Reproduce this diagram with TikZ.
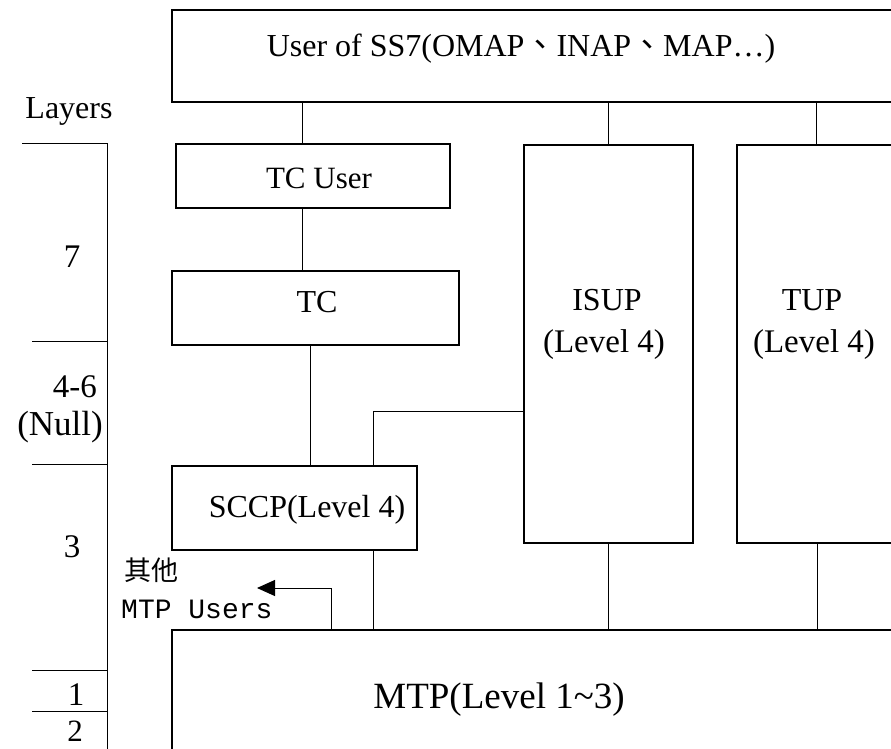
\documentclass[tikz,border=0pt]{standalone}
\usepackage{fontspec}
\setmainfont{Liberation Serif}
\setmonofont{Liberation Mono}
\newfontfamily\cjk{Noto Sans CJK TC}
\usepackage{tikz}
\usetikzlibrary{calc}
\usetikzlibrary{arrows.meta}

\begin{document}
\begin{tikzpicture}[x=1pt,y=-1pt]

		\tikzstyle{box}  = [draw, line width=1.3pt, inner sep=0pt]
		\tikzstyle{txt}  = [inner sep=0pt, anchor=base, font=\fontsize{32}{36}\selectfont]
		\tikzstyle{link} = [line width=1pt]
		\path[use as bounding box, clip] (0,0) rectangle (891,749);
		%%Layers
		\draw [link] (22,143)--(107,143);
		\draw [link] (32,341)--(107,341);
		\draw [link] (32,464)--(107,464);
		\draw [link] (32,670)--(107,670);
		\draw [link] (32,711)--(107,711);
		\draw [link] (107,143)--(107,749);
		\node [txt](layers) at (69,118) {Layers};
		\node [txt, font=\fontsize{33}{36}\selectfont](l7) at (72,267) {7};
		\node [txt, anchor=base east, font=\fontsize{33}{36}\selectfont](l46) at (97,397) {4-6};
		\node [txt, anchor=base east, font=\fontsize{35}{38}\selectfont](lnull) at (103,435) {(Null)};
		\node [txt, font=\fontsize{33}{36}\selectfont](l3) at (72,557) {3};
		\node [txt, font=\fontsize{33}{36}\selectfont](l1) at (76,705) {1};
		\node [txt, font=\fontsize{31}{36}\selectfont](l2) at (75,741) {2};
		%%Boxes
		\node [box, minimum width=738pt, minimum height=92pt](ss7) at (541,56) {};
		\node [box, minimum width=274pt, minimum height=64pt](tcuser) at (313,176) {};
		\node [box, minimum width=287pt, minimum height=74pt](tc) at (315.5,308) {};
		\node [box, minimum width=245pt, minimum height=84pt](sccp) at (294.5,508) {};
		\node [box, minimum width=169pt, minimum height=398pt](isup) at (608.5,344) {};
		\node [box, minimum width=173pt, minimum height=398pt](tup) at (823.5,344) {};
		\node [box, minimum width=738pt, minimum height=170pt](mtp) at (541,715) {};
		%%Texts
		\node [txt](ss7text) at (521,57) {User of SS7(OMAP{\cjk 、}INAP{\cjk 、}MAP…)};
		\node [txt, font=\fontsize{31}{36}\selectfont](tcusertext) at (319,188) {TC User};
		\node [txt](tctext) at (317,312) {TC};
		\node [txt](sccptext) at (307,517) {SCCP(Level 4)};
		\node [txt](isuptext) at (607,310) {ISUP};
		\node [txt, font=\fontsize{33}{36}\selectfont](isuplevel) at (604,352) {(Level 4)};
		\node [txt](tuptext) at (812,310) {TUP};
		\node [txt, font=\fontsize{33}{36}\selectfont](tuplevel) at (814,352) {(Level 4)};
		\node [txt, font=\fontsize{37}{40}\selectfont](mtptext) at (499,708) {MTP(Level 1\textasciitilde 3)};
		\node [txt, anchor=base west, font=\fontsize{27}{30}\selectfont\cjk](other) at (124,580) {其他};
		\node [txt, anchor=base west, font=\fontsize{28}{30}\selectfont\ttfamily](mtpusers) at (121,618) {MTP Users};
		%%Edges
		\coordinate (k1) at ($(tcuser.north)+(-11,0)$);
		\coordinate (k2) at ($(tc.south)+(-5.5,0)$);
		\coordinate (k3) at ($(tup.north)+(-7.5,0)$);
		\coordinate (k4) at ($(tup.south)+(-6.5,0)$);
		\coordinate (k5) at ($(isup.west)+(0,67)$);
		\coordinate (k6) at ($(sccp.north)+(78.5,0)$);
		\coordinate (k7) at ($(mtp.north)+(-210,0)$);
		\coordinate (tip) at (257,588);
		\draw [link] (ss7.south -| k1)--(k1);
		\draw [link] (tcuser.south -| k1)--(tc.north -| k1);
		\draw [link] (k2)--(sccp.north -| k2);
		\draw [link] (ss7.south -| isup.north)--(isup.north);
		\draw [link] (ss7.south -| k3)--(k3);
		\draw [link] (isup.south)--(mtp.north -| isup.south);
		\draw [link] (k4)--(mtp.north -| k4);
		\draw [link] (k5) -| (k6);
		\draw [link] (sccp.south -| k6)--(mtp.north -| k6);
		\draw [link, -{Triangle[length=18pt, width=16pt]}] (k7) |- (tip);
	\end{tikzpicture}
\end{document}
